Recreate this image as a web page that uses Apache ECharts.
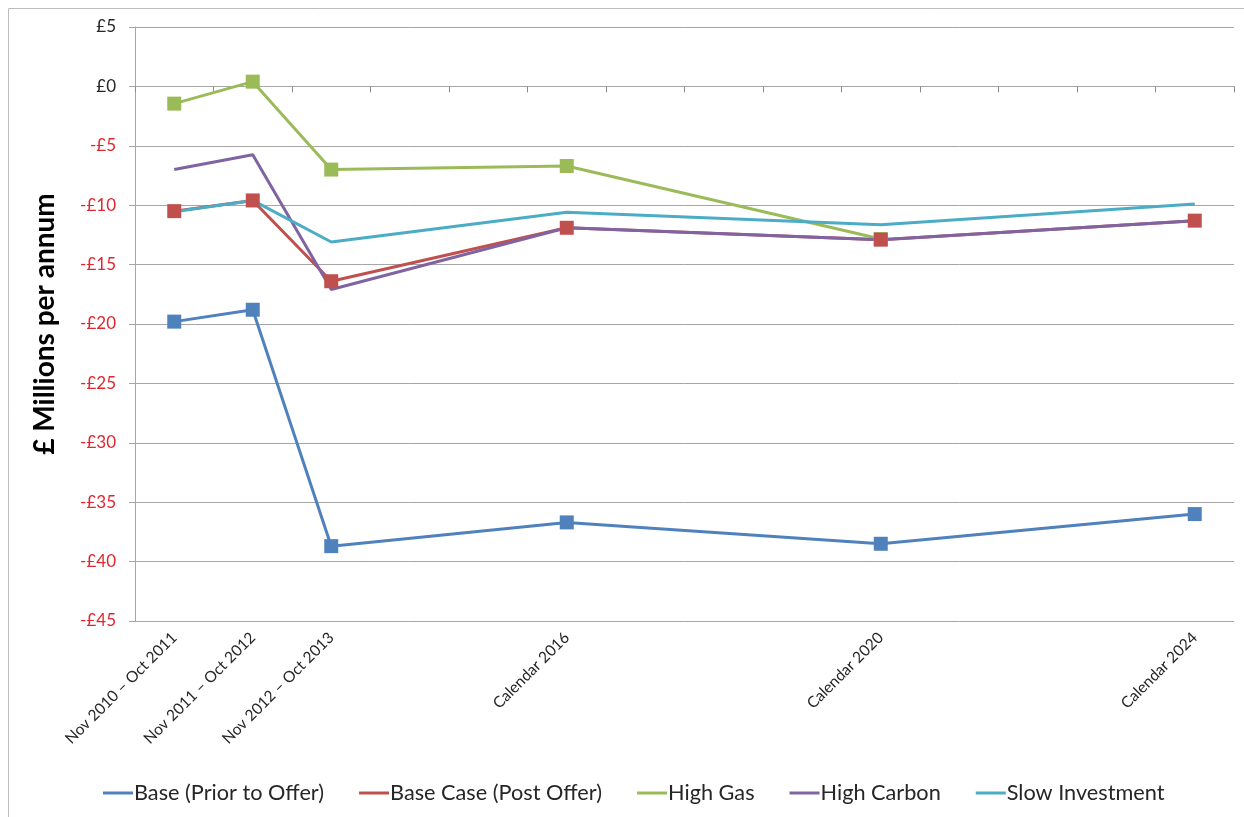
<!DOCTYPE html>
<html>
<head>
<meta charset="utf-8">
<title>£ Millions per annum by scenario</title>
<script src="https://cdn.jsdelivr.net/npm/echarts@6/dist/echarts.min.js"></script>
<style>
  html, body { margin: 0; padding: 0; background: #fff; }
  #chart { width: 1244px; height: 817px; }
</style>
</head>
<body>
<div id="chart"></div>
<script>
// Yearly slots along the horizontal axis; only some carry data
const years = ['2011','2012','2013','2014','2015','2016','2017','2018','2019','2020','2021','2022','2023','2024'];
const periodYears = ['2011', '2012', '2013', '2016', '2020', '2024'];
const periodLabels = ['Nov 2010 \u2013 Oct 2011', 'Nov 2011 \u2013 Oct 2012', 'Nov 2012 \u2013 Oct 2013', 'Calendar 2016', 'Calendar 2020', 'Calendar 2024'];

// £ millions per annum, one value per period
const basePrior    = [-19.8, -18.8, -38.7, -36.7, -38.5, -36.0];
const basePost     = [-10.5,  -9.6, -16.4, -11.9, -12.9, -11.3];
const highGas      = [ -1.45,  0.4,  -7.0,  -6.7, -12.85, null];
const highCarbon   = [ -7.0,  -5.75, -17.1, -11.9, -12.9, -11.3];
const slowInvest   = [-10.55, -9.6, -13.1, -10.6, -11.65, -9.9];

const yTicks = { min: -45, max: 5, interval: 5 };

const names  = ['Base (Prior to Offer)', 'Base Case (Post Offer)', 'High Gas', 'High Carbon', 'Slow Investment'];
const colors = ['#4F81BD', '#C0504D', '#9BBB59', '#8064A2', '#4BACC6'];
const valuesList = [basePrior, basePost, highGas, highCarbon, slowInvest];
const withMarkers = [true, true, true, false, false];

function pairs(vals) {
  return periodYears.map((y, i) => [y, vals[i]]).filter(p => p[1] !== null);
}

const FONT = 'Lato, "Open Sans", "Noto Sans", sans-serif';

const lineSeries = names.map((n, i) => ({
  name: n,
  type: 'line',
  xAxisIndex: 0,
  data: pairs(valuesList[i]),
  showSymbol: false,
  symbol: 'none',
  lineStyle: { color: colors[i], width: 3 },
  itemStyle: { color: colors[i] },
  z: 2
}));

// Markers sit above every line; red drawn last so it covers green where they meet
const markerOrder = [0, 2, 1];
const markerSeries = markerOrder.filter(i => withMarkers[i]).map(i => ({
  name: names[i],
  type: 'scatter',
  xAxisIndex: 0,
  data: pairs(valuesList[i]),
  symbol: 'rect',
  symbolSize: 14,
  itemStyle: { color: colors[i], opacity: 1 },
  z: 5
}));

const chart = echarts.init(document.getElementById('chart'));
chart.setOption({
  animation: false,
  backgroundColor: '#fff',
  textStyle: { fontFamily: FONT },
  graphic: [{
    type: 'rect',
    shape: { x: 8.5, y: 8.5, width: 1260, height: 840 },
    style: { fill: 'none', stroke: '#BDBDBD', lineWidth: 1 },
    silent: true
  }],
  grid: { left: 135, right: 10, top: 27, bottom: 196, containLabel: false },
  legend: {
    data: names,
    top: 777,
    left: 98,
    icon: 'rect',
    itemWidth: 30,
    itemHeight: 3,
    itemGap: 35,
    textStyle: { fontFamily: FONT, fontSize: 21.7, color: '#262626', padding: [0, 0, 0, -4] }
  },
  xAxis: [{
    type: 'category',
    data: years,
    boundaryGap: true,
    axisLine: { onZero: true, lineStyle: { color: '#A6A6A6', width: 1 } },
    axisTick: { show: true, interval: 0, inside: false, length: 6, lineStyle: { color: '#8C8C8C' } },
    axisLabel: { show: false },
    splitLine: { show: false }
  }, {
    type: 'category',
    data: years,
    position: 'bottom',
    boundaryGap: true,
    axisLine: { show: false, onZero: false },
    axisTick: { show: false },
    splitLine: { show: false },
    axisLabel: {
      interval: 0,
      rotate: 45,
      margin: 14,
      fontFamily: FONT,
      fontSize: 15.5,
      color: '#262626',
      formatter: v => {
        const k = periodYears.indexOf(v);
        return k >= 0 ? periodLabels[k] : '';
      }
    }
  }],
  yAxis: {
    type: 'value',
    min: yTicks.min,
    max: yTicks.max,
    interval: yTicks.interval,
    name: '£ Millions per annum',
    nameLocation: 'middle',
    nameGap: 76,
    nameRotate: 90,
    nameTextStyle: { fontFamily: FONT, fontSize: 28, fontWeight: 'bold', color: '#000' },
    axisLine: { show: true, lineStyle: { color: '#A6A6A6', width: 1 } },
    axisTick: { show: true, length: 6, lineStyle: { color: '#A6A6A6' } },
    axisLabel: {
      margin: 19,
      fontFamily: FONT,
      fontSize: 17,
      color: v => (Number(v) < 0 ? '#E0262E' : '#262626'),
      formatter: v => (v < 0 ? '-£' + (-v) : '£' + v)
    },
    splitLine: { show: true, lineStyle: { color: '#A6A6A6', width: 1 } }
  },
  series: lineSeries.concat(markerSeries)
});
</script>
</body>
</html>
